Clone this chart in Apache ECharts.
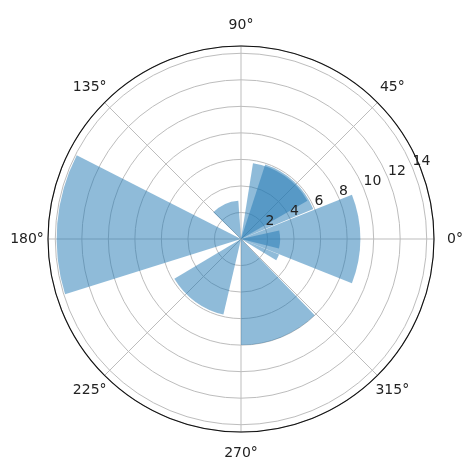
<!DOCTYPE html>
<html><head><meta charset="utf-8">
<script src="https://cdn.jsdelivr.net/npm/echarts@6/dist/echarts.min.js"></script>
<style>html,body{margin:0;padding:0;background:#fff}#c{width:474px;height:474px}</style>
</head><body><div id="c"></div>
<script>
// Bar centres (degrees), angular widths (degrees) and radii
const barTheta  = [0.0, 47.25, 55.5, 115.0, 175.2, 233.85, 292.0, 359.35, 333.35];
const barWidth  = [43.4, 49.5, 51.0, 42.0, 44.4, 46.1, 44.0, 26.7, 8.7];
const barRadius = [9.0, 5.9, 5.78, 2.9, 13.9, 5.85, 8.0, 2.95, 3.1];
const angleTicks = [0, 45, 90, 135, 180, 225, 270, 315];
const angleTickLabels = ['0°','45°','90°','135°','180°','225°','270°','315°'];
const radiusTickLabels = ['2','4','6','8','10','12','14'];
const radiusMax = 14.55;

const data = barTheta.map((t, i) => [barRadius[i], t, barWidth[i]]);
const labelData = angleTicks.map((a, i) => [radiusMax, a, i]);
const font = 'DejaVu Sans';
const gridStyle = {color: '#bdbdbd', width: 1};
const chart = echarts.init(document.getElementById('c'), null, {renderer: 'canvas'});
chart.setOption({
  animation: false,
  backgroundColor: '#fff',
  polar: [
    {center: [241, 239], radius: 193},
    {center: [241, 239], radius: 193}
  ],
  angleAxis: [
    {
      polarIndex: 0, type: 'value', min: 0, max: 360, interval: 45,
      startAngle: 0, clockwise: false,
      axisLine: {show: true, lineStyle: {color: '#111', width: 1.1}},
      axisTick: {show: false},
      axisLabel: {show: false},
      splitLine: {show: true, lineStyle: gridStyle}
    },
    {polarIndex: 1, type: 'value', min: 0, max: 360, interval: 45, startAngle: 22.5, clockwise: false, show: false}
  ],
  radiusAxis: [
    {
      polarIndex: 0, type: 'value', min: 0, max: radiusMax, interval: 2,
      axisLine: {show: false}, axisTick: {show: false}, axisLabel: {show: false},
      splitLine: {show: true, lineStyle: gridStyle}
    },
    {
      polarIndex: 1, type: 'value', min: 0, max: radiusMax, interval: 2, z: 10,
      axisLine: {show: false}, axisTick: {show: false}, splitLine: {show: false},
      axisLabel: {
        showMaxLabel: false, showMinLabel: false,
        formatter: v => { const k = Math.round(v / 2) - 1; return (Math.abs(v - Math.round(v)) < 1e-6 && radiusTickLabels[k]) ? radiusTickLabels[k] : ''; },
        margin: 0, align: 'left', verticalAlign: 'bottom',
        fontSize: 14, color: '#222', fontFamily: font
      }
    }
  ],
  series: [{
    type: 'custom',
    coordinateSystem: 'polar',
    polarIndex: 0,
    data: data,
    encode: {radius: 0, angle: 1},
    renderItem: function (params, api) {
      const cs = params.coordSys;
      const r = api.value(0), th = api.value(1), w = api.value(2);
      const p = api.coord([r, th]);
      const rpx = Math.hypot(p[0] - cs.cx, p[1] - cs.cy);
      const ac = Math.atan2(p[1] - cs.cy, p[0] - cs.cx);
      const half = api.size([0, w], [r, th])[1] / 2;
      return {
        type: 'sector',
        shape: {cx: cs.cx, cy: cs.cy, r0: 0, r: rpx, startAngle: ac - half, endAngle: ac + half, clockwise: true},
        style: {fill: '#1f77b4', opacity: 0.5}
      };
    }
  }, {
    type: 'custom',
    coordinateSystem: 'polar',
    polarIndex: 0,
    silent: true,
    z: 5,
    data: labelData,
    encode: {radius: 0, angle: 1},
    renderItem: function (params, api) {
      const cs = params.coordSys;
      const p = api.coord([api.value(0), api.value(1)]);
      const dx = p[0] - cs.cx, dy = p[1] - cs.cy, d = Math.hypot(dx, dy);
      const f = (d + 21) / d;
      return {
        type: 'text',
        x: cs.cx + dx * f, y: cs.cy + dy * f,
        style: {text: angleTickLabels[api.value(2)], fill: '#222', fontSize: 14, fontFamily: font, align: 'center', verticalAlign: 'middle'}
      };
    }
  }]
});
</script></body></html>
